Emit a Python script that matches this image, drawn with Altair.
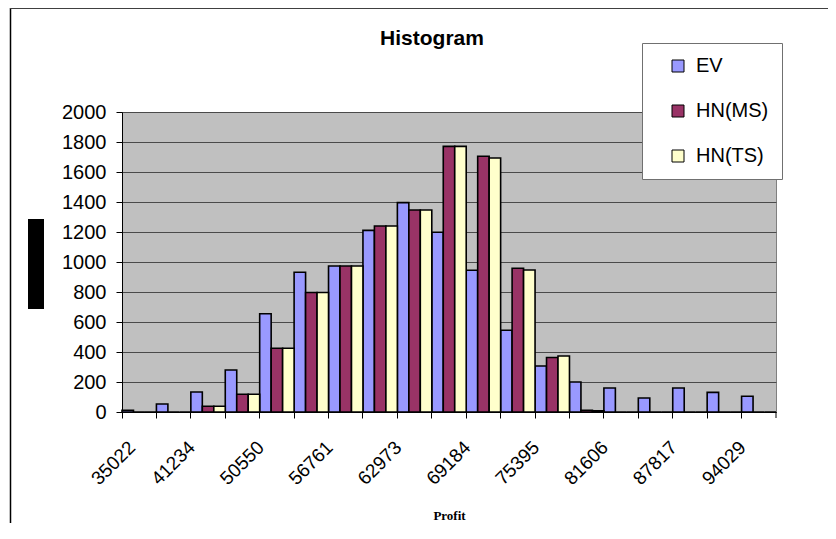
import altair as alt
import pandas as pd

# ---- data ----
bins = list(range(19))
tick_labels = ["35022", "", "41234", "", "50550", "", "56761", "", "62973", "",
               "69184", "", "75395", "", "81606", "", "87817", "", "94029"]
series = ["EV", "HN(MS)", "HN(TS)"]
ev = [12, 53, 133, 280, 655, 932, 973, 1211, 1396, 1198, 945, 545, 307, 200, 160, 93, 160, 131, 105]
hn_ms = [0, 0, 38, 118, 425, 797, 973, 1240, 1347, 1771, 1705, 958, 363, 12, 0, 0, 0, 0, 0]
hn_ts = [0, 0, 38, 118, 425, 797, 973, 1240, 1347, 1771, 1693, 947, 373, 8, 0, 0, 0, 0, 0]
colors = ["#9999FF", "#993366", "#FFFFCC"]
y_ticks = list(range(0, 2001, 200))

rows = []
for name, vals in zip(series, [ev, hn_ms, hn_ts]):
    for b, v in zip(bins, vals):
        rows.append({"bin": b, "series": name, "count": v})
df = pd.DataFrame(rows)

FONT = "Liberation Sans"
label_expr = "[" + ",".join("'" + s + "'" for s in tick_labels) + "][datum.value]"

bars = alt.Chart(df).mark_bar(stroke="black", strokeWidth=1.6).encode(
    x=alt.X("bin:O", sort=bins,
            scale=alt.Scale(paddingInner=0, paddingOuter=0),
            axis=alt.Axis(bandPosition=0, labelExpr=label_expr, labelAngle=-45,
                          labelAlign="right", labelBaseline="middle",
                          labelOffset={"condition": {"test": "datum.value === 0", "value": -7},
                                       "value": -16},
                          labelPadding=26, labelOverlap=False,
                          labelFont=FONT, labelFontSize=19, labelColor="black",
                          tickSize=6, tickColor="black", domainColor="black",
                          title="Profit", titleFont="Liberation Serif",
                          titleFontSize=13, titleFontWeight="bold", titleColor="black",
                          titleY=103, titleBaseline="middle")),
    xOffset=alt.XOffset("series:N", sort=series,
                        scale=alt.Scale(paddingInner=0, paddingOuter=0)),
    y=alt.Y("count:Q", scale=alt.Scale(domain=[0, 2000], nice=False),
            axis=alt.Axis(values=y_ticks, format="d", title=None, labelFont=FONT,
                          labelFontSize=20, labelColor="black", labelPadding=10,
                          tickSize=6, tickColor="black", domainColor="black",
                          grid=True, gridColor="#4a4a4a", gridWidth=1)),
    color=alt.Color("series:N", sort=series,
                    scale=alt.Scale(domain=series, range=colors),
                    legend=alt.Legend(title=None, orient="none", legendX=520, legendY=-69,
                                      symbolType="square", symbolSize=144,
                                      symbolStrokeColor="black", symbolStrokeWidth=1,
                                      labelFont=FONT, labelFontSize=20, labelColor="black",
                                      labelOffset=8, rowPadding=25, padding=13,
                                      symbolOffset=13, fillColor="white",
                                      strokeColor="#707070")),
)

title_df = pd.DataFrame({"t": ["Histogram"]})
title = alt.Chart(title_df).mark_text(font=FONT, fontSize=21, fontWeight="bold",
                                      color="black", align="center",
                                      baseline="alphabetic").encode(
    x=alt.value(310), y=alt.value(-67), text="t:N")

# black block standing in for the y-axis title of the reference
ybox = alt.Chart(title_df).mark_rect(color="black").encode(
    x=alt.value(-94), x2=alt.value(-78), y=alt.value(107), y2=alt.value(197))

frame_left = alt.Chart(title_df).mark_rule(color="black", strokeWidth=1.5).encode(
    x=alt.value(-111.5), y=alt.value(-104), y2=alt.value(411))
frame_top = alt.Chart(title_df).mark_rule(color="#404040", strokeWidth=2).encode(
    x=alt.value(-112), x2=alt.value(706), y=alt.value(-104))
end_tick = alt.Chart(title_df).mark_rule(color="black", strokeWidth=1).encode(
    x=alt.value(654), y=alt.value(300), y2=alt.value(306))

chart = alt.layer(bars, title, ybox, frame_left, frame_top, end_tick).properties(
    width=654, height=300,
    autosize=alt.AutoSizeParams(type="none"),
    padding={"left": 114, "top": 104, "right": 52, "bottom": 111},
).configure_view(fill="#C0C0C0", stroke="#808080", strokeWidth=1)

chart.save("out.html", embed_options={"renderer": "svg", "actions": False})
